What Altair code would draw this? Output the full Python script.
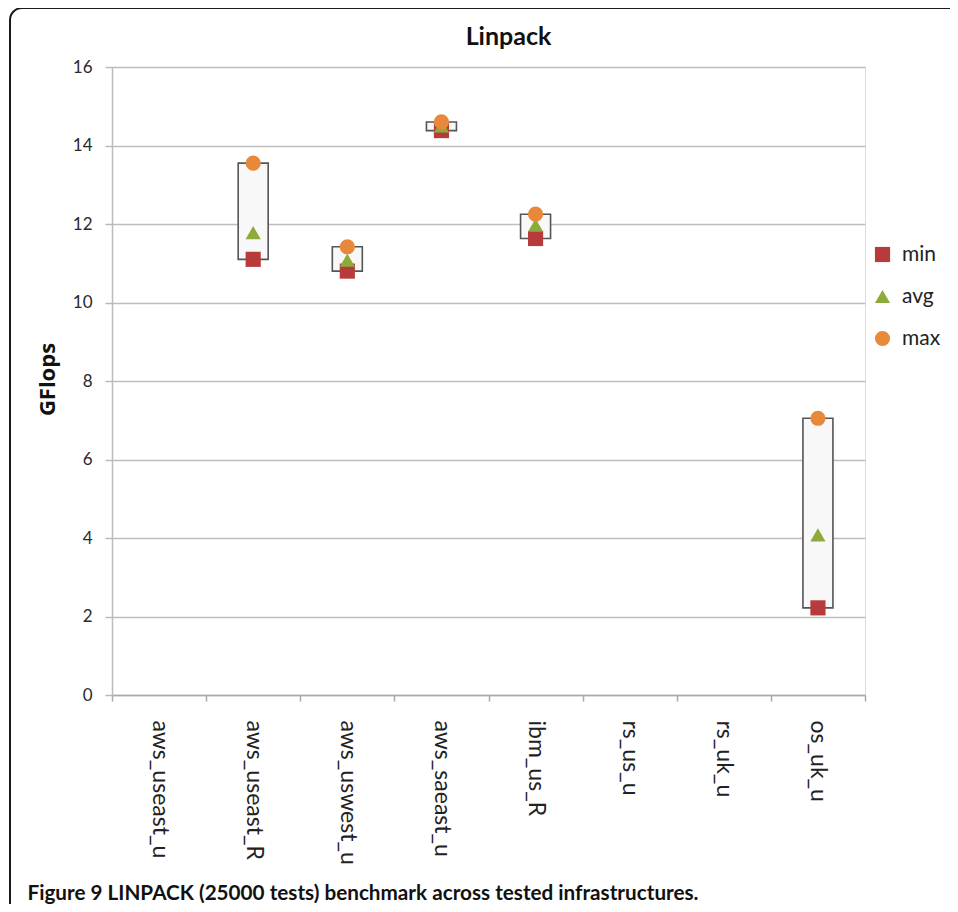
import altair as alt
import pandas as pd

categories = ["aws_useast_u", "aws_useast_R", "aws_uswest_u", "aws_saeast_u",
              "ibm_us_R", "rs_us_u", "rs_uk_u", "os_uk_u"]
min_vals = [None, 11.10, 10.80, 14.38, 11.63, None, None, 2.22]
avg_vals = [None, 11.78, 11.08, 14.50, 11.97, None, None, 4.08]
max_vals = [None, 13.55, 11.42, 14.60, 12.25, None, None, 7.05]
series_names = ["min", "avg", "max"]
series_colors = ["#B83B3B", "#8CAB3C", "#E8883A"]
series_shapes = ["square", "triangle-up", "circle"]
y_ticks = [0, 2, 4, 6, 8, 10, 12, 14, 16]
chart_title = "Linpack"
y_title = "GFlops"
caption = "Figure 9 LINPACK (25000 tests) benchmark across tested infrastructures."

box_df = pd.DataFrame({"cat": categories, "lo": min_vals, "hi": max_vals}).dropna()
rows = []
for name, vals in zip(series_names, [min_vals, avg_vals, max_vals]):
    for c, v in zip(categories, vals):
        if v is not None:
            rows.append({"cat": c, "series": name, "value": v})
pts_df = pd.DataFrame(rows)

x_enc = alt.X(
    "cat:N",
    sort=categories,
    scale=alt.Scale(domain=categories, paddingInner=0, paddingOuter=0),
    axis=alt.Axis(
        title=caption,
        titleFont="Lato", titleFontSize=20.7, titleFontWeight="bold", titleColor="#111111",
        titleX=-85, titleY=204, titleAlign="left", titleBaseline="alphabetic", titleAnchor="start",
        labelAngle=90, labelAlign="left", labelBaseline="middle",
        labelFont="Lato", labelFontSize=23, labelColor="#222222", labelPadding=19,
        tickBand="extent", ticks=True, tickSize=6, tickColor="#AAAAAA", tickWidth=1.5,
        domainColor="#AAAAAA", domainWidth=1.5, grid=False,
    ),
)
y_axis = alt.Axis(
    title=y_title, titleFont="Open Sans", titleFontSize=22, titleFontWeight="bold", titleColor="#111111",
    titleX=-65, titleY=312, titleAlign="center", titleBaseline="middle", titleAngle=-90,
    values=y_ticks, labelFont="Lato", labelFontSize=17, labelColor="#2a2a2a", labelPadding=13,
    tickSize=7, tickColor="#BBBBBB", tickWidth=1.5,
    domainColor="#BBBBBB", domainWidth=1.5,
    grid=True, gridColor="#BDBDBD", gridWidth=1.6,
)
y_scale = alt.Scale(domain=[0, 16], nice=False)

frame = alt.Chart(pd.DataFrame({"k": [0]})).mark_rect(
    filled=False, stroke="#1a1a1a", strokeWidth=2, cornerRadius=12
).encode(
    x=alt.value(-102), x2=alt.value(900), y=alt.value(-59), y2=alt.value(860)
)

boxes = alt.Chart(box_df).mark_bar(
    width=30, fill="#F8F8F8", stroke="#555555", strokeWidth=1.6
).encode(
    x=x_enc,
    y=alt.Y("lo:Q", scale=y_scale, axis=y_axis),
    y2="hi:Q",
)

points = alt.Chart(pts_df).mark_point(filled=True, size=230, opacity=1).encode(
    x=x_enc,
    y=alt.Y("value:Q", scale=y_scale, axis=y_axis),
    color=alt.Color("series:N", scale=alt.Scale(domain=series_names, range=series_colors),
                    legend=alt.Legend(title=None, orient="none", legendX=760, legendY=177,
                                      labelFont="Lato", labelFontSize=21, labelColor="#222222",
                                      symbolSize=230, symbolStrokeWidth=0, rowPadding=20,
                                      labelOffset=9, padding=0)),
    shape=alt.Shape("series:N", scale=alt.Scale(domain=series_names, range=series_shapes)),
)

chart = alt.layer(frame, boxes, points).properties(
    width=753, height=628,
    title=alt.Title(chart_title, font="Lato", fontSize=25, fontWeight="bold", color="#111111",
                    anchor="middle", baseline="alphabetic", offset=-63, dx=20),
    autosize=alt.AutoSizeParams(type="none"),
    padding={"left": 104, "top": 59, "right": 85, "bottom": 209},
).configure_view(stroke=None).configure(background="white")

chart.save("out.html", embed_options={"renderer": "svg", "actions": False})
